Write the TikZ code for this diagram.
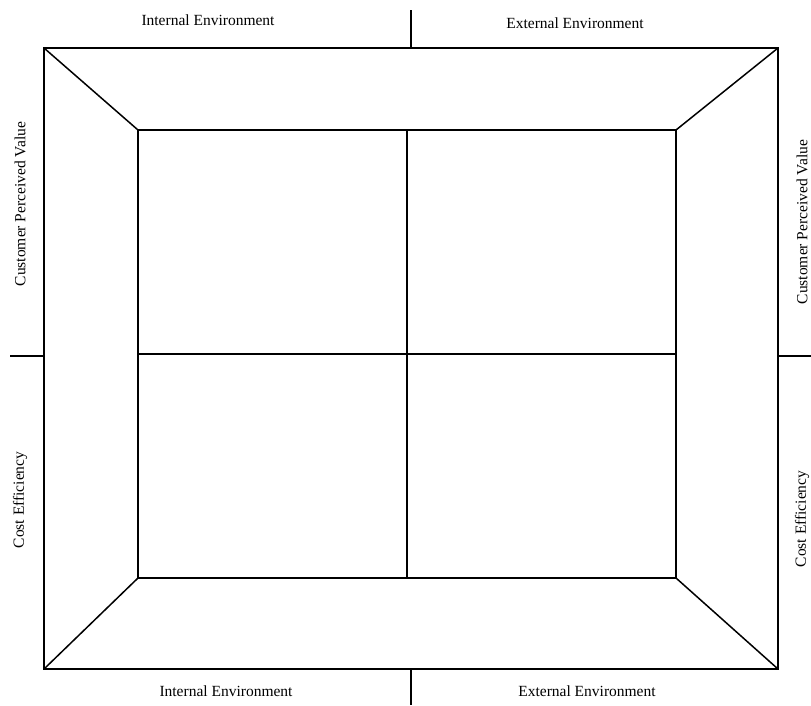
\documentclass[tikz,border=0pt]{standalone}
\usepackage{fontspec}
\setmainfont{Liberation Serif}
\begin{document}
\begin{tikzpicture}[x=1pt,y=-1pt,
  frame/.style={line width=1.5pt, line join=miter},
  lbl/.style={font=\fontsize{15.5}{18}\selectfont, inner sep=0pt}]
\useasboundingbox (0,0) rectangle (811,705);
% corners
\coordinate (o1) at (44,48);
\coordinate (o2) at (778,48);
\coordinate (o3) at (778,669);
\coordinate (o4) at (44,669);
\coordinate (i1) at (138,130);
\coordinate (i2) at (676,130);
\coordinate (i3) at (676,578);
\coordinate (i4) at (138,578);
\coordinate (mt) at (407,130);
\coordinate (mb) at (407,578);
\coordinate (ml) at (138,354);
\coordinate (mr) at (676,354);
\coordinate (tt) at (411,10);
\coordinate (tb) at (411,48);
\coordinate (bt) at (411,669);
\coordinate (bb) at (411,705);
\coordinate (ll) at (10,356);
\coordinate (lr) at (44,356);
\coordinate (rl) at (778,356);
\coordinate (rr) at (811,356);
\draw[frame] (o1) -- (o2) -- (o3) -- (o4) -- cycle;
\draw[frame] (i1) -- (i2) -- (i3) -- (i4) -- cycle;
\draw[frame] (o1) -- (i1);
\draw[frame] (o2) -- (i2);
\draw[frame] (o3) -- (i3);
\draw[frame] (o4) -- (i4);
\draw[frame] (mt) -- (mb);
\draw[frame] (ml) -- (mr);
\draw[frame] (tt) -- (tb);
\draw[frame] (bt) -- (bb);
\draw[frame] (ll) -- (lr);
\draw[frame] (rl) -- (rr);
% labels
\node[lbl] (tint) at (208,20) {Internal Environment};
\node[lbl] (text) at (575,23) {External Environment};
\node[lbl] (bint) at (226,691) {Internal Environment};
\node[lbl] (bext) at (587,691) {External Environment};
\node[lbl, rotate=90] (lcpv) at (20,204) {Customer Perceived Value};
\node[lbl, rotate=90] (lce) at (20,500) {Cost Efficiency};
\node[lbl, rotate=90] (rcpv) at (802,222) {Customer Perceived Value};
\node[lbl, rotate=90] (rce) at (802,519) {Cost Efficiency};
\end{tikzpicture}
\end{document}
